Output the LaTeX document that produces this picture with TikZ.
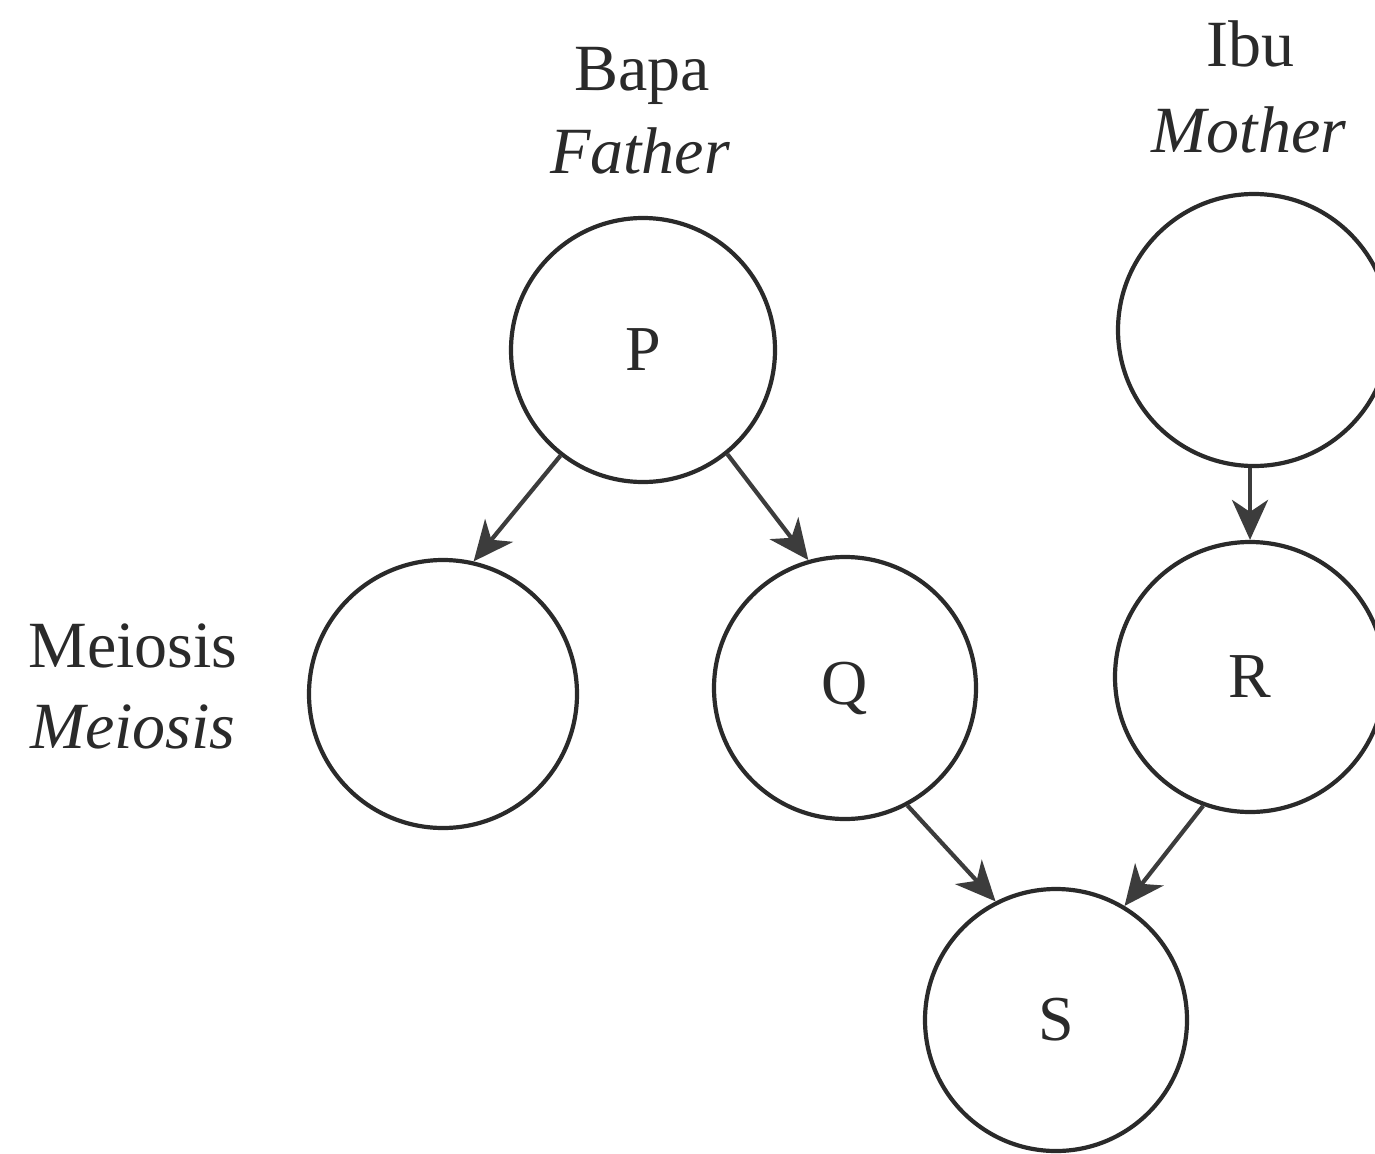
\documentclass[tikz,border=0pt]{standalone}
\usepackage{fontspec}
\setmainfont{Liberation Serif}
\usetikzlibrary{arrows.meta}
\definecolor{ink}{HTML}{2A2A2A}
\definecolor{arrowink}{HTML}{3C3C3C}
\tikzset{
  cell/.style={circle, draw=ink, line width=4.2pt, minimum size=#1, inner sep=0pt, font=\fontsize{64}{70}\selectfont, text=ink},
  lbl/.style={anchor=base, font=\fontsize{66}{72}\selectfont, text=ink, inner sep=0pt},
  conn/.style={draw=arrowink, line width=4.2pt, -{Stealth[length=40pt, width=36pt, inset=12pt]}}
}
\begin{document}
\begin{tikzpicture}[x=1pt, y=-1pt]
\useasboundingbox[fill=white] (0,0) rectangle (1375,1153);
\node[cell=264pt] (P) at (643,350) {P};
\node[cell=272pt] (M) at (1254,330) {};
\node[cell=268pt] (A) at (443,694) {};
\node[cell=262pt] (Q) at (845,688) {Q};
\node[cell=270pt] (R) at (1250,677) {R};
\node[cell=262pt] (S) at (1056,1020) {S};
\node[lbl] (bapa) at (642,91) {Bapa};
\node[lbl] (father) at (640,173) {\itshape Father};
\node[lbl] (ibu) at (1250,67) {Ibu};
\node[lbl] (mother) at (1249,152) {\itshape Mother};
\node[lbl] (mei) at (133,667) {Meiosis};
\node[lbl] (meiI) at (133,748) {\itshape Meiosis};
\draw[conn] (P.232) -- (A.77);
\draw[conn] (P.309) -- (Q.106);
\draw[conn] (M.south -| R.north) -- (R.north);
\draw[conn] (Q.298) -- (S.117);
\draw[conn] (R.250) -- (S.59);
\end{tikzpicture}
\end{document}
